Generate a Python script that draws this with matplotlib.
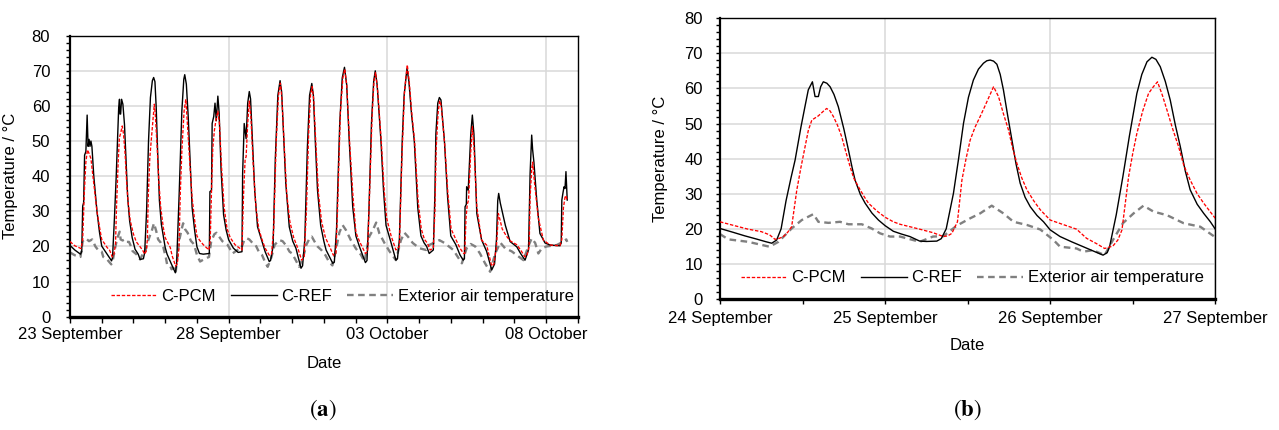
import numpy as np
import matplotlib
matplotlib.use("Agg")
import matplotlib.pyplot as plt
import matplotlib.dates as mdates
from matplotlib.ticker import MultipleLocator, FixedLocator

plt.rcParams['font.family'] = ['Liberation Sans', 'DejaVu Sans']
plt.rcParams['font.size'] = 12
plt.rcParams['mathtext.fontset'] = 'stix'

# ---------------- data: panel (a), day offset from 23 Sep 00:00 ----------------
A_START = '2018-09-23T00:00'
A_PCM = [(0.00, 21.4), (0.15, 20.2), (0.35, 19.4), (0.40, 22), (0.45, 35), (0.50, 44), (0.55, 47.5),
         (0.60, 46.5), (0.66, 45), (0.75, 38), (0.85, 30), (0.93, 25.5), (1.00, 22),
         (1.17, 19.7), (1.25, 18.9), (1.333, 17.0), (1.384, 17.8), (1.434, 20.6), (1.465, 31.1),
         (1.515, 43.4), (1.556, 51.0), (1.596, 52.2), (1.646, 54.3), (1.687, 52.0), (1.737, 46.3),
         (1.788, 37.7), (1.838, 32.0), (1.899, 27.3), (2.00, 23.5), (2.09, 21.3), (2.21, 19.9),
         (2.29, 18.9), (2.353, 17.8), (2.404, 18.7), (2.438, 22.0), (2.465, 33.9), (2.515, 45.3),
         (2.576, 52.0), (2.626, 57.2), (2.657, 60.5), (2.687, 57.7), (2.747, 48.2), (2.798, 38.7),
         (2.859, 31.1), (2.94, 25.4), (3.00, 22.5), (3.16, 19.7), (3.22, 17.3), (3.33, 14.4),
         (3.38, 15.1), (3.435, 19.7), (3.475, 34.9), (3.525, 47.2), (3.596, 58.6), (3.65, 61.9),
         (3.707, 53.9), (3.778, 43.4), (3.848, 33.9), (3.93, 27.3), (4.00, 23.0),
         (4.08, 21.8), (4.20, 20.5), (4.38, 19.0), (4.42, 22), (4.46, 36), (4.50, 48), (4.55, 53),
         (4.60, 56), (4.66, 58.5), (4.71, 55), (4.78, 42), (4.86, 31), (4.95, 25), (5.05, 22.5),
         (5.20, 20.5), (5.35, 19.5),
         (5.42, 19), (5.47, 35), (5.52, 45), (5.55, 45.5), (5.60, 55), (5.65, 61.4), (5.70, 57),
         (5.77, 44), (5.86, 31), (5.95, 25), (6.05, 22), (6.15, 19.5), (6.28, 17.5),
         (6.35, 17.8), (6.42, 25), (6.50, 50), (6.57, 63), (6.63, 66.5), (6.68, 62), (6.75, 49),
         (6.83, 35), (6.93, 27), (7.05, 22.5), (7.18, 19.5), (7.30, 16.1),
         (7.38, 17), (7.45, 30), (7.52, 52), (7.58, 63), (7.63, 65.5), (7.68, 62), (7.75, 49),
         (7.83, 35), (7.93, 27), (8.05, 22.5), (8.18, 20), (8.30, 17.5),
         (8.38, 18), (8.43, 30), (8.52, 58), (8.60, 68), (8.66, 70.5), (8.72, 66), (8.81, 50),
         (8.92, 34), (9.01, 24), (9.12, 21.5), (9.31, 18.0),
         (9.38, 18.5), (9.44, 35), (9.52, 57), (9.58, 67), (9.63, 69.5), (9.69, 65), (9.81, 50),
         (9.90, 36), (9.98, 28), (10.12, 23), (10.27, 19),
         (10.38, 20), (10.46, 45), (10.54, 64), (10.63, 71.7), (10.69, 67), (10.77, 58), (10.86, 50),
         (10.97, 33), (11.07, 25), (11.17, 22), (11.26, 21), (11.35, 19),
         (11.45, 19.5), (11.50, 30), (11.54, 48), (11.60, 58), (11.65, 61.5), (11.70, 60), (11.81, 49),
         (11.91, 35), (12.01, 25), (12.16, 22), (12.29, 19.5), (12.40, 18),
         (12.44, 18), (12.48, 28), (12.52, 32), (12.56, 33.2), (12.63, 47), (12.68, 54.1), (12.73, 48.5),
         (12.82, 31.3), (12.97, 21.8), (13.13, 20.4), (13.29, 14.4),
         (13.36, 15), (13.44, 20), (13.50, 29.4), (13.54, 28), (13.62, 25), (13.75, 23), (13.87, 21.6),
         (14.08, 20.5), (14.20, 19), (14.34, 17),
         (14.40, 17.5), (14.47, 20), (14.50, 34), (14.55, 42), (14.58, 44), (14.64, 38), (14.76, 28),
         (14.92, 21.8), (15.13, 20.4), (15.44, 20.2),
         (15.50, 22), (15.55, 31), (15.60, 34), (15.63, 34.5), (15.67, 33)]

A_REF = [(0.00, 20.3), (0.15, 19.0), (0.33, 17.8), (0.37, 18.5), (0.40, 31.5), (0.43, 32.5), (0.46, 46),
         (0.50, 47), (0.54, 57.4), (0.57, 48.5), (0.60, 50.5), (0.63, 48.5), (0.66, 50), (0.69, 48.5),
         (0.75, 40), (0.85, 30), (0.93, 24), (1.00, 20.1),
         (1.31, 15.9), (1.34, 16.8), (1.40, 28), (1.455, 39.6), (1.535, 59.6), (1.56, 61.9),
         (1.576, 57.7), (1.596, 57.7), (1.626, 61.9), (1.667, 60.5), (1.717, 54.8), (1.778, 42.5),
         (1.818, 33.9), (1.879, 27.3), (1.96, 22.5), (2.05, 19.2), (2.15, 17.8), (2.21, 16.3),
         (2.313, 16.5), (2.353, 18.2), (2.414, 30.1), (2.475, 50.1), (2.535, 62.4), (2.596, 67.2),
         (2.636, 68.1), (2.677, 66.9), (2.717, 59.6), (2.768, 45.3), (2.818, 33.0), (2.879, 26.3),
         (2.96, 22.0), (3.00, 19.7), (3.06, 17.8), (3.20, 14.9), (3.32, 12.5), (3.36, 14.9),
         (3.44, 34.9), (3.525, 58.6), (3.586, 67.6), (3.616, 68.9), (3.667, 66.2), (3.727, 56.7),
         (3.788, 43.4), (3.848, 31.1), (3.93, 24.4), (4.00, 19.9),
         (4.08, 18.0), (4.20, 17.8), (4.39, 18.0), (4.41, 35.6), (4.46, 36), (4.48, 55.0), (4.53, 57),
         (4.57, 60.8), (4.61, 55.8), (4.66, 62.8), (4.70, 58), (4.76, 42), (4.84, 29), (4.92, 24.7),
         (5.00, 21.9), (5.15, 19.5), (5.30, 18.3),
         (5.42, 18.5), (5.44, 40.8), (5.49, 55.0), (5.55, 50.7), (5.60, 60.8), (5.65, 64.1), (5.69, 62),
         (5.75, 50), (5.82, 36), (5.91, 25.6), (6.05, 21.5), (6.15, 18.5), (6.28, 15.7),
         (6.32, 16), (6.40, 20), (6.47, 45), (6.55, 63), (6.62, 67.2), (6.67, 64), (6.73, 52), (6.80, 38),
         (6.91, 25.6), (7.02, 21.5), (7.12, 19.5), (7.28, 13.8),
         (7.33, 14.5), (7.40, 22), (7.48, 48), (7.55, 63), (7.62, 66.4), (7.67, 63), (7.73, 50), (7.80, 36),
         (7.90, 26), (8.00, 21.5), (8.07, 19.0), (8.28, 15.2),
         (8.33, 15.5), (8.40, 25), (8.50, 55), (8.58, 68), (8.65, 71.0), (8.72, 66), (8.80, 50),
         (8.91, 31.3), (9.01, 23), (9.12, 20), (9.31, 15.4),
         (9.36, 16), (9.42, 30), (9.50, 55), (9.57, 67), (9.62, 70.0), (9.68, 66), (9.80, 50), (9.88, 36),
         (9.96, 26), (10.12, 21), (10.27, 16.1),
         (10.32, 16.5), (10.38, 22), (10.47, 50), (10.53, 63), (10.62, 70.7), (10.68, 67), (10.76, 58),
         (10.85, 50), (10.96, 31), (11.06, 23), (11.16, 21), (11.24, 20), (11.32, 18.0),
         (11.45, 19), (11.50, 35), (11.53, 52), (11.59, 60.8), (11.64, 62.4), (11.69, 61.7), (11.80, 50),
         (11.90, 34), (12.00, 23), (12.16, 20.5), (12.29, 17.6), (12.39, 16.1),
         (12.43, 16.5), (12.45, 31.3), (12.49, 32), (12.50, 37), (12.55, 36), (12.63, 52), (12.68, 57.4),
         (12.73, 52), (12.82, 29.4), (12.97, 21.9), (13.13, 18.6), (13.29, 13.3),
         (13.38, 15), (13.44, 22), (13.48, 33), (13.51, 35.1), (13.56, 32.4), (13.72, 26), (13.87, 21.4),
         (14.08, 19.9), (14.20, 18), (14.34, 16.1),
         (14.45, 19), (14.50, 40.8), (14.55, 51.7), (14.58, 47.5), (14.62, 44), (14.71, 33.2),
         (14.81, 23.7), (14.97, 21.0), (15.13, 20.4), (15.44, 20.2),
         (15.48, 21), (15.50, 33.2), (15.54, 35.5), (15.57, 37), (15.60, 36.5), (15.63, 41.3), (15.67, 33.2)]

A_EXT = [(0.00, 18.3), (0.15, 17.5), (0.33, 17.0), (0.40, 21.5), (0.50, 22.3), (0.60, 21.5), (0.70, 22),
         (0.80, 20), (0.90, 18.8), (1.00, 18.5),
         (1.05, 17), (1.17, 16.3), (1.30, 14.9), (1.354, 16.3), (1.434, 20.1), (1.495, 22.5), (1.566, 24.2),
         (1.596, 22.0), (1.657, 21.7), (1.727, 22.0), (1.778, 21.3), (1.859, 21.3), (1.919, 20.1),
         (1.97, 18.7), (2.09, 17.8), (2.21, 16.3), (2.29, 17.8), (2.353, 17.9), (2.434, 20.9),
         (2.515, 23.0), (2.576, 24.4), (2.646, 26.6), (2.717, 24.4), (2.778, 22.0), (2.859, 21.1),
         (2.94, 19.8), (3.02, 16.8), (3.06, 14.9), (3.16, 14.4), (3.20, 13.5), (3.26, 13.9), (3.33, 12.5),
         (3.38, 16.8), (3.44, 21.6), (3.505, 24.4), (3.565, 26.6), (3.626, 24.9), (3.707, 23.9),
         (3.808, 21.6), (3.909, 20.6), (4.00, 17.6),
         (4.10, 15.7), (4.25, 16.5), (4.38, 17), (4.45, 21.5), (4.55, 23.5), (4.62, 23.9), (4.70, 22.8),
         (4.80, 21.5), (4.97, 20.4), (5.12, 18), (5.28, 19),
         (5.40, 19.5), (5.50, 22), (5.58, 22.3), (5.65, 22), (5.75, 21), (5.85, 20.4), (5.95, 18.5),
         (6.05, 17.6), (6.15, 15.5), (6.23, 14.2),
         (6.35, 17), (6.45, 20.5), (6.60, 21.8), (6.70, 21.5), (6.80, 20.4), (6.92, 18.5), (7.00, 18),
         (7.12, 16), (7.22, 14.2),
         (7.35, 17), (7.45, 20.5), (7.55, 22.3), (7.62, 22.8), (7.70, 21.5), (7.80, 20), (7.92, 19),
         (8.05, 17.5), (8.17, 15.5), (8.27, 14.6),
         (8.38, 19), (8.49, 24), (8.59, 26.1), (8.70, 24.6), (8.85, 21.8), (9.01, 19.4), (9.17, 17.6),
         (9.28, 15.7),
         (9.43, 22.8), (9.54, 24.6), (9.65, 26.8), (9.75, 23.7), (9.91, 21), (10.07, 18.6), (10.27, 16.1),
         (10.43, 21.8), (10.54, 23.9), (10.65, 22.8), (10.80, 21), (11.01, 19.5), (11.22, 19), (11.32, 20.4),
         (11.53, 21.3), (11.64, 21.8), (11.80, 21), (12.01, 19.5), (12.08, 19), (12.35, 15.2),
         (12.50, 19.5), (12.63, 20.7), (12.77, 20), (12.92, 18), (13.08, 15.2), (13.24, 12.8),
         (13.40, 18), (13.56, 21.1), (13.71, 19.5), (13.92, 18.6), (14.13, 17.2), (14.29, 16.1),
         (14.45, 20.2), (14.55, 22.3), (14.66, 21), (14.76, 18), (14.87, 19.5), (15.02, 20), (15.34, 20.4),
         (15.53, 21.3), (15.64, 22), (15.67, 21.3)]

A_XLIM = ('2018-09-23', '2018-10-09')
A_LABEL_DATES = ['2018-09-23', '2018-09-28', '2018-10-03', '2018-10-08']

# ---------------- data: panel (b), day offset from 24 Sep 00:00 ----------------
B_START = '2018-09-24T00:00'
B_PCM = [(0.00, 22.0), (0.08, 21.0), (0.17, 19.9), (0.25, 19.2), (0.30, 18.3), (0.333, 17.0),
         (0.36, 17.3), (0.384, 17.8), (0.41, 19.0), (0.434, 20.6), (0.465, 31.1), (0.49, 37.5),
         (0.515, 43.4), (0.535, 48.0), (0.556, 51.0), (0.596, 52.2), (0.626, 53.5), (0.646, 54.3),
         (0.667, 53.6), (0.687, 52.0), (0.712, 49.5), (0.737, 46.3), (0.762, 42.0), (0.788, 37.7),
         (0.81, 34.5), (0.838, 32.0), (0.87, 29.4), (0.899, 27.3), (0.95, 25.1), (1.00, 23.3),
         (1.05, 22.0), (1.09, 21.3), (1.15, 20.6), (1.21, 19.9), (1.29, 18.9), (1.353, 17.8),
         (1.38, 18.0), (1.404, 18.7), (1.438, 22.0), (1.465, 33.9), (1.49, 40.0), (1.515, 45.3),
         (1.545, 49.0), (1.576, 52.0), (1.60, 54.5), (1.626, 57.2), (1.657, 60.5), (1.687, 57.7),
         (1.717, 52.8), (1.747, 48.2), (1.772, 43.0), (1.798, 38.7), (1.828, 34.5), (1.859, 31.1),
         (1.90, 28.0), (1.94, 25.4), (2.00, 22.5), (2.08, 21.2), (2.16, 19.9), (2.22, 17.3),
         (2.28, 15.8), (2.33, 14.4), (2.38, 15.1), (2.41, 16.8), (2.435, 19.7), (2.475, 34.9),
         (2.50, 41.5), (2.525, 47.2), (2.56, 53.5), (2.596, 58.6), (2.625, 60.5), (2.65, 61.9),
         (2.68, 58.0), (2.707, 53.9), (2.742, 48.5), (2.778, 43.4), (2.81, 38.0), (2.848, 33.9),
         (2.89, 30.0), (2.93, 27.3), (2.97, 24.8), (3.00, 23.0)]

B_REF = [(0.00, 20.1), (0.08, 19.0), (0.15, 18.0), (0.22, 17.1), (0.28, 16.3), (0.313, 15.9),
         (0.343, 16.8), (0.37, 20.0), (0.40, 28.0), (0.43, 34.5), (0.455, 39.6), (0.49, 49.0),
         (0.515, 55.0), (0.535, 59.6), (0.56, 61.9), (0.576, 57.7), (0.596, 57.7), (0.61, 60.5),
         (0.626, 61.9), (0.647, 61.5), (0.667, 60.5), (0.69, 58.3), (0.717, 54.8), (0.75, 48.5),
         (0.778, 42.5), (0.80, 37.5), (0.818, 33.9), (0.85, 29.8), (0.879, 27.3), (0.92, 24.5),
         (0.96, 22.5), (1.00, 20.9), (1.05, 19.3), (1.10, 18.5), (1.15, 17.8), (1.21, 16.5),
         (1.25, 16.4), (1.313, 16.5), (1.34, 17.2), (1.37, 20.0), (1.414, 30.1), (1.445, 40.0),
         (1.475, 50.1), (1.505, 57.5), (1.535, 62.4), (1.565, 65.5), (1.596, 67.2), (1.616, 67.9),
         (1.636, 68.1), (1.657, 67.8), (1.677, 66.9), (1.697, 64.0), (1.717, 59.6), (1.742, 52.5),
         (1.768, 45.3), (1.793, 38.5), (1.818, 33.0), (1.848, 29.0), (1.879, 26.3), (1.92, 23.8),
         (1.96, 22.0), (2.00, 19.7), (2.06, 17.8), (2.13, 16.3), (2.20, 14.9), (2.26, 13.7),
         (2.32, 12.5), (2.345, 13.2), (2.36, 14.9), (2.40, 24.0), (2.44, 34.9), (2.48, 46.5),
         (2.525, 58.6), (2.555, 64.0), (2.586, 67.6), (2.616, 68.9), (2.64, 68.3), (2.667, 66.2),
         (2.697, 62.0), (2.727, 56.7), (2.758, 49.5), (2.788, 43.4), (2.818, 36.5), (2.848, 31.1),
         (2.89, 27.0), (2.93, 24.4), (2.97, 22.0), (3.00, 19.9)]

B_EXT = [(0.00, 18.5), (0.05, 17.0), (0.17, 16.3), (0.30, 14.9), (0.354, 16.3), (0.434, 20.1),
         (0.495, 22.5), (0.566, 24.2), (0.596, 22.0), (0.657, 21.7), (0.727, 22.0), (0.778, 21.3),
         (0.859, 21.3), (0.919, 20.1), (0.97, 18.7), (1.03, 17.8), (1.09, 17.8), (1.21, 16.3),
         (1.29, 17.8), (1.353, 17.9), (1.434, 20.9), (1.515, 23.0), (1.576, 24.4), (1.646, 26.6),
         (1.717, 24.4), (1.778, 22.0), (1.859, 21.1), (1.94, 19.8), (2.02, 16.8), (2.06, 14.9),
         (2.16, 14.4), (2.20, 13.5), (2.26, 13.9), (2.33, 12.5), (2.38, 16.8), (2.44, 21.6),
         (2.505, 24.4), (2.565, 26.6), (2.626, 24.9), (2.707, 23.9), (2.808, 21.6), (2.909, 20.6),
         (3.00, 17.6)]

B_XLIM = ('2018-09-24', '2018-09-27')
B_LABEL_DATES = ['2018-09-24', '2018-09-25', '2018-09-26', '2018-09-27']

SERIES_NAMES = ['C-PCM', 'C-REF', 'Exterior air temperature']
Y_LABEL = 'Temperature / °C'
X_LABEL = 'Date'
PANEL_TAGS = [r'($\mathbf{a}$)', r'($\mathbf{b}$)']


def to_dates(start, pts):
    d = np.array([p[0] for p in pts])
    v = np.array([p[1] for p in pts])
    t = np.datetime64(start) + np.round(d * 1440).astype('timedelta64[m]')
    return t.astype('datetime64[ms]').astype(object), v


def dnum(s):
    return mdates.date2num(np.datetime64(s).astype('datetime64[ms]').astype(object))


def style_axes(ax, xlim, label_dates, minor_loc, ypad, xpad, xticklen):
    ax.set_xlim(dnum(xlim[0]), dnum(xlim[1]))
    ax.set_ylim(0, 80)
    ax.yaxis.set_major_locator(MultipleLocator(10))
    ax.yaxis.set_minor_locator(MultipleLocator(2))
    ax.xaxis.set_major_locator(FixedLocator([dnum(d) for d in label_dates]))
    ax.xaxis.set_minor_locator(minor_loc)
    ax.xaxis.set_major_formatter(mdates.DateFormatter('%d %B'))
    ax.grid(True, axis='y', color='#d9d9d9', lw=1.1, zorder=0)
    for ds in label_dates[1:]:
        ax.axvline(dnum(ds), color='#d9d9d9', lw=1.1, zorder=0)
    ax.tick_params(axis='y', which='both', direction='out', length=2.8, width=1.0,
                   pad=ypad, labelsize=12)
    ax.tick_params(axis='x', which='both', direction='out', length=xticklen, width=1.0,
                   pad=xpad, labelsize=12)
    for s in ['top', 'right']:
        ax.spines[s].set_linewidth(1.0)
    ax.spines['left'].set_linewidth(1.6)
    ax.spines['bottom'].set_linewidth(2.4)
    ax.set_axisbelow(True)


def draw(ax, start, pcm, ref, ext):
    t, v = to_dates(start, ext)
    l3, = ax.plot(t, v, color='#808080', lw=1.7, linestyle=(0, (2.8, 1.9)), zorder=2)
    t, v = to_dates(start, ref)
    l2, = ax.plot(t, v, color='black', lw=1.0, zorder=3)
    t, v = to_dates(start, pcm)
    l1, = ax.plot(t, v, color='#ff0000', lw=0.95, linestyle=(0, (2.6, 1.3)), zorder=4)
    return [l1, l2, l3]


fig = plt.figure(figsize=(12.79, 4.30), dpi=100)
W, H = 1279, 430

axA = fig.add_axes([70 / W, 1 - 316.7 / H, (577.7 - 70) / W, (316.7 - 35.7) / H])
hA = draw(axA, A_START, A_PCM, A_REF, A_EXT)
style_axes(axA, A_XLIM, A_LABEL_DATES, mdates.DayLocator(), ypad=11.5, xpad=3.4, xticklen=4.2)

axB = fig.add_axes([720 / W, 1 - 299 / H, (1215.3 - 720) / W, (299 - 18.3) / H])
hB = draw(axB, B_START, B_PCM, B_REF, B_EXT)
style_axes(axB, B_XLIM, B_LABEL_DATES, mdates.HourLocator(byhour=[12]), ypad=9.5, xpad=5.2,
           xticklen=3.3)

for ax, handles, cx, cy, lx, ly in [(axA, hA, 0.536, 0.071, -0.102, -0.165),
                                     (axB, hB, 0.509, 0.075, -0.105, -0.164)]:
    ax.legend(handles, SERIES_NAMES, loc='center', bbox_to_anchor=(cx, cy), ncol=3,
              frameon=False, fontsize=12, handlelength=2.75, handletextpad=0.28,
              columnspacing=0.9, borderpad=0.0, borderaxespad=0.0)
    ax.set_ylabel(Y_LABEL, fontsize=12)
    ax.yaxis.set_label_coords(lx, 0.5)
    ax.set_xlabel(X_LABEL, fontsize=12)
    ax.xaxis.label.set_va('center')
    ax.xaxis.set_label_coords(0.5, ly)

for tag, xc in zip(PANEL_TAGS, [323, 967]):
    fig.text(xc / W, 1 - 410 / H, tag, ha='center', va='center', fontsize=16.5,
             family='STIXGeneral')

fig.savefig('out.png', dpi=100)
